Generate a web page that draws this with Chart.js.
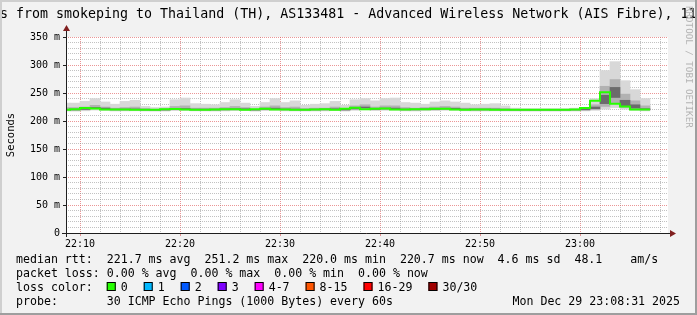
<!DOCTYPE html>
<html>
<head>
<meta charset="utf-8">
<title>SmokePing latency</title>
<script src="https://cdn.jsdelivr.net/npm/chart.js@4.4.1/dist/chart.umd.min.js"></script>
<style>
  html, body { margin: 0; padding: 0; background: #f2f2f2; }
  #box { width: 697px; height: 315px; }
</style>
</head>
<body>
<div id="box"><canvas id="rttChart" width="697" height="315"></canvas></div>
<script>
// one 60 s step per entry, value = minutes after 22:00 at the start of the step
var stepStart = [8, 9, 10, 11, 12, 13, 14, 15, 16, 17, 18, 19, 20, 21, 22, 23, 24, 25, 26, 27,
                 28, 29, 30, 31, 32, 33, 34, 35, 36, 37, 38, 39, 40, 41, 42, 43, 44, 45, 46, 47,
                 48, 49, 50, 51, 52, 53, 54, 55, 56, 57, 58, 59, 60, 61, 62, 63, 64, 65, 66];

// median rtt (ms)
var medianRtt = [220.3, 220.2, 221.0, 223.0, 222.1, 220.4, 220.5, 220.6, 220.2, 220.0, 220.1, 221.2, 221.3, 220.4, 220.3, 220.2, 220.5, 221.1, 221.0, 220.0,
                 221.2, 222.0, 220.6, 220.4, 220.2, 220.3, 220.5, 221.0, 220.1, 222.0, 223.8, 221.2, 222.0, 222.2, 220.5, 220.4, 221.0, 221.1, 221.9, 221.8,
                 220.6, 220.3, 220.4, 220.5, 220.2, 220.1, 220.0, 220.0, 220.1, 220.0, 220.1, 220.2, 220.4, 223.0, 236.0, 251.2, 231.0, 226.0, 220.7];

// smoke: spread of the 30 pings in each step (ms)
var pingMin = [217.8, 217.6, 218.2, 219.5, 218.8, 217.9, 218.0, 218.1, 217.8, 217.6, 217.7, 218.5, 218.6, 218.0, 217.9, 217.8, 218.0, 218.4, 218.4, 217.6,
               218.5, 219.0, 218.0, 217.9, 217.8, 217.9, 218.0, 218.4, 217.7, 219.0, 220.0, 218.5, 219.0, 219.2, 218.0, 217.9, 218.3, 218.4, 219.0, 218.9,
               218.0, 217.8, 217.9, 218.0, 217.8, 217.7, 217.6, 217.6, 217.7, 217.6, 217.7, 217.8, 218.0, 219.0, 221.0, 224.0, 221.0, 219.0, 218.0];
var ping20 = [219.3, 219.2, 220.0, 221.8, 221.0, 219.4, 219.5, 219.6, 219.2, 219.0, 219.1, 220.2, 220.3, 219.4, 219.3, 219.2, 219.5, 220.1, 220.0, 219.0,
              220.2, 221.0, 219.6, 219.4, 219.2, 219.3, 219.5, 220.0, 219.1, 221.0, 222.6, 220.2, 221.0, 221.2, 219.5, 219.4, 220.0, 220.1, 220.9, 220.8,
              219.6, 219.3, 219.4, 219.5, 219.2, 219.1, 219.0, 219.0, 219.1, 219.0, 219.1, 219.2, 219.4, 221.0, 226.0, 232.0, 224.0, 221.0, 219.5];
var ping40 = [219.9, 219.8, 220.6, 222.4, 221.6, 220.0, 220.1, 220.2, 219.8, 219.6, 219.7, 220.8, 220.9, 220.0, 219.9, 219.8, 220.1, 220.7, 220.6, 219.6,
              220.8, 221.5, 220.2, 220.0, 219.8, 219.9, 220.1, 220.6, 219.7, 221.5, 223.2, 220.8, 221.5, 221.7, 220.1, 220.0, 220.6, 220.7, 221.4, 221.3,
              220.2, 219.9, 220.0, 220.1, 219.8, 219.7, 219.6, 219.6, 219.7, 219.6, 219.7, 219.8, 220.0, 221.8, 231.0, 242.0, 227.0, 223.0, 220.2];
var ping60 = [221.1, 221.0, 221.8, 224.2, 223.0, 221.2, 221.3, 221.5, 221.0, 220.7, 220.8, 222.1, 222.3, 221.2, 221.1, 221.0, 221.3, 222.0, 221.8, 220.7,
              222.0, 223.0, 221.4, 221.3, 221.0, 221.1, 221.3, 221.9, 220.9, 223.0, 225.0, 222.0, 223.0, 223.1, 221.3, 221.2, 221.8, 222.0, 222.8, 222.6,
              221.3, 221.1, 221.2, 221.3, 221.0, 220.8, 220.7, 220.7, 220.8, 220.7, 220.8, 220.9, 221.1, 225.0, 246.0, 260.0, 237.0, 229.0, 222.0];
var ping80 = [224, 224, 225, 228, 225, 223, 224, 225, 222, 221, 222, 226, 227, 223, 223, 223, 224, 226, 224, 221,
              225, 227, 224, 225, 222, 223, 223, 225, 222, 227, 229, 225, 227, 227, 224, 223, 224, 225, 226, 225,
              223, 223, 223, 223, 222, 221, 221, 221, 221, 221, 221, 221, 221, 229, 262, 274, 248, 236, 227];
var pingMax = [232, 232, 235, 240, 234, 230, 235, 237, 226, 224, 225, 238, 241, 231, 230, 229, 233, 238, 232, 226,
               233, 240, 233, 236, 228, 230, 231, 235, 228, 238, 240, 236, 240, 241, 233, 232, 230, 234, 236, 234,
               232, 229, 230, 231, 227, 223, 222, 222, 222, 222, 222, 223, 224, 240, 290, 306, 272, 256, 240];

var xTickMinutes = [10, 20, 30, 40, 50, 60];
var xTickLabels = ['22:10', '22:20', '22:30', '22:40', '22:50', '23:00'];
var yTickValues = [0, 50, 100, 150, 200, 250, 300, 350];
var yTickLabels = ['0', '50 m', '100 m', '150 m', '200 m', '250 m', '300 m', '350 m'];

var lossLabels = ['0', '1', '2', '3', '4-7', '8-15', '16-29', '30/30'];
var lossColors = ['#26ff00', '#00b8ff', '#0059ff', '#7e00ff', '#ff00ff', '#ff5500', '#ff0000', '#a00000'];

var titleText = 's from smokeping to Thailand (TH), AS133481 - Advanced Wireless Network (AIS Fibre), 11';
var rowRtt = 'median rtt:  221.7 ms avg  251.2 ms max  220.0 ms min  220.7 ms now  4.6 ms sd  48.1    am/s';
var rowLoss = 'packet loss: 0.00 % avg  0.00 % max  0.00 % min  0.00 % now';
var rowProbe = 'probe:       30 ICMP Echo Pings (1000 Bytes) every 60s';
var stampText = 'Mon Dec 29 23:08:31 2025';

document.addEventListener("DOMContentLoaded", function() {
    var MONO = "'DejaVu Sans Mono', monospace";
    Chart.defaults.font.family = MONO;
    Chart.defaults.color = '#000';

    function band(lo, hi) {
        return stepStart.map(function(m, i) { return { x: m + 0.5, y: [lo[i], hi[i]] }; });
    }
    var medianPts = stepStart.map(function(m, i) { return { x: m, y: medianRtt[i] }; });
    medianPts.push({ x: stepStart[stepStart.length - 1] + 1, y: medianRtt[medianRtt.length - 1] });

    var minorGrid = 'rgba(143,143,143,0.55)';
    var majorGrid = 'rgba(222,80,80,0.6)';

    // rrdtool look: background, white canvas, arrows, texts, 3d frame
    var rrdLook = {
        id: 'rrdLook',
        beforeDraw: function(chart) {
            var c = chart.ctx, a = chart.chartArea;
            c.save();
            c.fillStyle = '#f2f2f2';
            c.fillRect(0, 0, chart.width, chart.height);
            c.fillStyle = '#ffffff';
            c.fillRect(a.left, a.top, a.right - a.left, a.bottom - a.top);
            c.restore();
        },
        afterDraw: function(chart) {
            var c = chart.ctx, a = chart.chartArea;
            c.save();
            // axes
            c.strokeStyle = '#1f1f1f';
            c.lineWidth = 1;
            c.beginPath();
            c.moveTo(a.left - 4, a.bottom + 0.5);
            c.lineTo(a.right + 3, a.bottom + 0.5);
            c.moveTo(a.left + 0.5, a.bottom + 4);
            c.lineTo(a.left + 0.5, a.top - 6);
            c.stroke();
            c.fillStyle = '#801f1f';
            c.beginPath();
            c.moveTo(a.right + 2, a.bottom - 3);
            c.lineTo(a.right + 8, a.bottom + 0.5);
            c.lineTo(a.right + 2, a.bottom + 4);
            c.closePath();
            c.fill();
            c.beginPath();
            c.moveTo(a.left - 3, a.top - 6);
            c.lineTo(a.left + 0.5, a.top - 12);
            c.lineTo(a.left + 4, a.top - 6);
            c.closePath();
            c.fill();

            // title
            c.fillStyle = '#000';
            c.font = '13.3px ' + MONO;
            c.textBaseline = 'alphabetic';
            c.textAlign = 'left';
            c.fillText(titleText, 0, 18);

            // vertical unit label
            c.save();
            c.translate(11, 135);
            c.rotate(-Math.PI / 2);
            c.font = '10.5px ' + MONO;
            c.textAlign = 'center';
            c.textBaseline = 'middle';
            c.fillText('Seconds', 0, 0);
            c.restore();

            // watermark
            c.save();
            c.translate(688, 6);
            c.rotate(Math.PI / 2);
            c.font = '9.2px ' + MONO;
            c.fillStyle = '#b4b4b4';
            c.textAlign = 'left';
            c.textBaseline = 'middle';
            c.fillText('RRDTOOL / TOBI OETIKER', 0, 0);
            c.restore();

            // legend
            c.font = '11.6px ' + MONO;
            c.fillStyle = '#000';
            c.textBaseline = 'alphabetic';
            var cw = c.measureText('0').width;
            c.fillText(rowRtt, 16, 263);
            c.fillText(rowLoss, 16, 277);
            c.fillText('loss color:', 16, 291);
            var x = 16 + 13 * cw;
            for (var i = 0; i < lossLabels.length; i++) {
                c.fillStyle = lossColors[i];
                c.fillRect(x, 282, 9, 9);
                c.strokeStyle = '#000';
                c.strokeRect(x + 0.5, 282.5, 8, 8);
                c.fillStyle = '#000';
                c.fillText(lossLabels[i], x + 14, 291);
                x += 14 + lossLabels[i].length * cw + 16;
            }
            c.fillText(rowProbe, 16, 305);
            c.textAlign = 'right';
            c.fillText(stampText, 680, 305);

            // frame
            c.fillStyle = '#cfcfcf';
            c.fillRect(0, 0, chart.width, 2);
            c.fillRect(0, 0, 2, chart.height);
            c.fillStyle = '#9e9e9e';
            c.fillRect(chart.width - 2, 0, 2, chart.height);
            c.fillRect(0, chart.height - 2, chart.width, 2);
            c.restore();
        }
    };

    var smoke = { type: 'bar', barPercentage: 1, categoryPercentage: 1, grouped: false, borderWidth: 0, clip: 0 };

    new Chart(document.getElementById('rttChart').getContext('2d'), {
        type: 'bar',
        data: {
            datasets: [
                { type: 'line', label: 'median rtt', data: medianPts, stepped: 'after', borderColor: '#26ff00',
                  borderWidth: 2, pointRadius: 0, fill: false, clip: 0, order: 0 },
                Object.assign({ label: 'ping 40-60', data: band(ping40, ping60), backgroundColor: '#6b6b6b', order: 1 }, smoke),
                Object.assign({ label: 'ping 20-80', data: band(ping20, ping80), backgroundColor: '#b2b2b2', order: 2 }, smoke),
                Object.assign({ label: 'ping min-max', data: band(pingMin, pingMax), backgroundColor: '#d8d8d8', order: 3 }, smoke)
            ]
        },
        options: {
            responsive: false,
            animation: false,
            devicePixelRatio: 1,
            layout: { padding: { top: 37, right: 29, left: 0, bottom: 0 } },
            plugins: { legend: { display: false }, tooltip: { enabled: false } },
            scales: {
                x: {
                    type: 'linear',
                    offset: false,
                    min: 8.6,
                    max: 68.8,
                    afterBuildTicks: function(s) {
                        var t = [];
                        for (var v = 10; v <= 68; v += 2) t.push({ value: v });
                        s.ticks = t;
                    },
                    afterFit: function(s) { s.height = 82; },
                    grid: {
                        offset: false,
                        color: function(ctx) { return ctx.tick && ctx.tick.value % 10 === 0 ? majorGrid : minorGrid; },
                        tickColor: function(ctx) { return ctx.tick && ctx.tick.value % 10 === 0 ? majorGrid : 'rgba(0,0,0,0)'; },
                        tickLength: 3,
                        lineWidth: 1
                    },
                    border: { display: false, dash: [1, 1] },
                    ticks: {
                        autoSkip: false,
                        maxRotation: 0,
                        padding: 2,
                        font: { size: 10 },
                        callback: function(v) {
                            var k = xTickMinutes.indexOf(v);
                            return k < 0 ? '' : xTickLabels[k];
                        }
                    }
                },
                y: {
                    min: 0,
                    max: 350,
                    afterBuildTicks: function(s) {
                        var t = [];
                        for (var v = 0; v <= 350; v += 10) t.push({ value: v });
                        s.ticks = t;
                    },
                    afterFit: function(s) { s.width = 66; },
                    grid: {
                        color: function(ctx) { return ctx.tick && ctx.tick.value % 50 === 0 ? majorGrid : minorGrid; },
                        tickColor: function(ctx) { return ctx.tick && ctx.tick.value % 50 === 0 ? '#1f1f1f' : 'rgba(0,0,0,0)'; },
                        tickLength: 3,
                        lineWidth: 1
                    },
                    border: { display: false, dash: [1, 1] },
                    ticks: {
                        autoSkip: false,
                        padding: 3,
                        font: { size: 10 },
                        callback: function(v) {
                            var k = yTickValues.indexOf(v);
                            return k < 0 ? '' : yTickLabels[k];
                        }
                    }
                }
            }
        },
        plugins: [rrdLook]
    });
});
</script>
</body>
</html>
